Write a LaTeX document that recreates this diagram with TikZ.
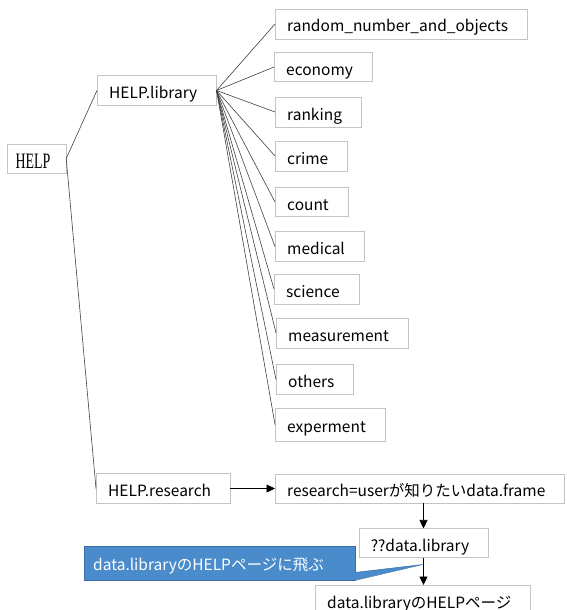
\documentclass[tikz,border=0pt]{standalone}
\usepackage{fontspec}
\setmainfont{Noto Sans CJK JP}
\newfontfamily\helpfont[FakeStretch=0.63]{Liberation Serif}
\usetikzlibrary{arrows.meta, calc}
\definecolor{boxgray}{HTML}{C4C4C4}
\definecolor{linegray}{HTML}{404040}
\definecolor{noteblue}{HTML}{4A8BCB}
\definecolor{noteedge}{HTML}{3A6EA5}

\begin{document}
\begin{tikzpicture}[
    x=1pt, y=-1pt,
    item/.style={draw=boxgray, fill=white, minimum height=30pt, inner xsep=12pt, text height=19pt, text depth=3pt, font=\fontsize{15.5}{17}\selectfont, execute at end node={\hspace*{7pt}}},
    link/.style={draw=linegray, line width=0.6pt},
    flow/.style={-{Triangle[length=8.5pt, width=8pt]}, line width=0.7pt, black},
    notebox/.style={draw=noteedge, fill=noteblue, text=white, text width=253pt, minimum height=34pt, inner xsep=9pt, text height=18pt, text depth=3pt, font=\fontsize{15.5}{17}\selectfont, align=left},
]
\useasboundingbox (0,0) rectangle (567,610);

% Root
\node[item, font=\helpfont\fontsize{22}{24}\selectfont, minimum width=59pt, minimum height=29pt, inner xsep=2pt, text height=20pt, text depth=0pt, execute at end node={}] (help) at (36.5,158.5) {HELP};

% Branches
\node[item, anchor=west] (lib) at (97,90.5) {HELP.library};
\node[item, anchor=west] (res) at (96,488.5) {HELP.research};

% Library categories
\node[item, anchor=west] (rno) at (275,24) {random\_number\_and\_objects};
\node[item, anchor=west, minimum height=28pt] (eco) at (274,67) {economy};
\node[item, anchor=west] (rank) at (275,112) {ranking};
\node[item, anchor=west] (crime) at (275,156) {crime};
\node[item, anchor=west, minimum height=28pt] (count) at (275,202) {count};
\node[item, anchor=west] (med) at (275,246.5) {medical};
\node[item, anchor=west] (sci) at (274,289) {science};
\node[item, anchor=west] (meas) at (276,333) {measurement};
\node[item, anchor=west] (oth) at (276,379.5) {others};
\node[item, anchor=west, minimum height=33pt] (expm) at (275,424.5) {experment};

% Tree links
\draw[link] (help.east) -- (lib.west);
\draw[link] (help.east) -- (res.west);
\foreach \c in {rno, eco, rank, crime, count, med, sci, meas, oth, expm}
    \draw[link] (lib.east) -- (\c.west);

% Research chain
\node[item, anchor=west, minimum height=27pt] (frame) at (275,488.5) {research=userが知りたいdata.frame};
\node[item, minimum height=26pt] (dlib) at (423.5,543) {??data.library};
\node[item, anchor=north west] (page) at (315,585) {data.libraryのHELPページ};

\draw[flow] (res) -- (frame);
\draw[flow] (dlib.north |- frame.south) -- (dlib.north);
\draw[flow] (dlib.south) -- (dlib.south |- page.north);

% Callout
\coordinate (tip) at ($(dlib.south)!0.25!(page.north)$);
\node[notebox, anchor=north west] (note) at (84,546) {data.libraryのHELPページに飛ぶ};
\fill[noteblue] ([xshift=-1pt, yshift=8pt]note.south east) -- (tip) -- ([xshift=-1pt]note.south east) -- cycle;
\draw[noteedge] ([yshift=8pt]note.south east) -- (tip) -- (note.south east);

\end{tikzpicture}
\end{document}
